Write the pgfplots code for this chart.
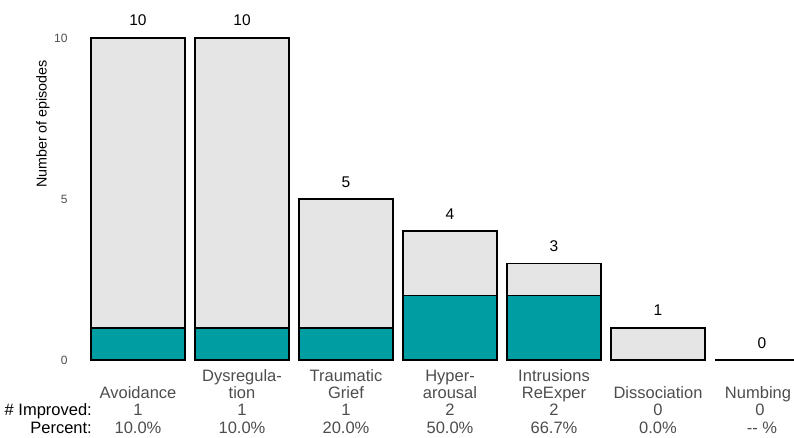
\documentclass[border=0pt]{standalone}
\usepackage{pgfplots}
\pgfplotsset{compat=1.18}
\usepackage{fontspec}
\setmainfont{Liberation Sans}
\definecolor{bargray}{HTML}{E5E5E5}
\definecolor{barteal}{HTML}{009DA3}
\definecolor{labgray}{HTML}{4D4D4D}
\begin{document}
\begin{tikzpicture}[x=1pt,y=1pt]
\useasboundingbox (0,0) rectangle (794,437);
\begin{axis}[
  at={(86pt,77pt)}, anchor=south west,
  scale only axis, width=708pt, height=322pt,
  xmin=-0.5, xmax=6.3077, ymin=0, ymax=10,
  axis line style={draw=none},
  ytick={0,5,10}, xtick=\empty,
  major tick length=0pt,
  yticklabel style={font=\fontsize{12}{14}\selectfont, text=labgray, anchor=east, xshift=-15pt},
  /pgf/number format/assume math mode=true,
  bar width=94pt,
]
\addplot[ybar, bar shift=0pt, fill=bargray, draw=black, line width=1.6pt,
  nodes near coords, every node near coord/.append style={font=\fontsize{15.5}{18}\selectfont, text=black, anchor=base, inner sep=0pt, yshift=12pt, /pgf/number format/assume math mode=true}]
  coordinates {(0,10) (1,10) (2,5) (3,4) (4,3) (5,1) (6,0)};
\addplot[ybar, bar shift=0pt, fill=barteal, draw=black, line width=1.6pt]
  coordinates {(0,1) (1,1) (2,1) (3,2) (4,2) (5,0) (6,0)};
\end{axis}
\begin{scope}[every node/.style={font=\fontsize{16.5}{18}\selectfont, text=labgray, anchor=base, inner sep=0pt}]
% y label
\node[rotate=90, anchor=center, text=black, font=\fontsize{14.3}{17}\selectfont] at (43,313) {Number of episodes};
% row headers
\node[anchor=base east, text=black] at (92,22) {\# Improved:};
\node[anchor=base east, text=black] at (92,4) {Percent:};
% categories: line1 base 56, line2 base 39, improved 22, percent 4
\node at (138,39) {Avoidance};
\node at (138,22) {1};
\node at (138,4) {10.0\%};
\node at (242,56) {Dysregula-};
\node at (242,39) {tion};
\node at (242,22) {1};
\node at (242,4) {10.0\%};
\node at (346,56) {Traumatic};
\node at (346,39) {Grief};
\node at (346,22) {1};
\node at (346,4) {20.0\%};
\node at (450,56) {Hyper-};
\node at (450,39) {arousal};
\node at (450,22) {2};
\node at (450,4) {50.0\%};
\node at (554,56) {Intrusions};
\node at (554,39) {ReExper};
\node at (554,22) {2};
\node at (554,4) {66.7\%};
\node at (658,39) {Dissociation};
\node at (658,22) {0};
\node at (658,4) {0.0\%};
\node at (758,39) {Numbing};
\node at (760,22) {0};
\node at (762,4) {-{}- \%};
\end{scope}
\end{tikzpicture}
\end{document}
